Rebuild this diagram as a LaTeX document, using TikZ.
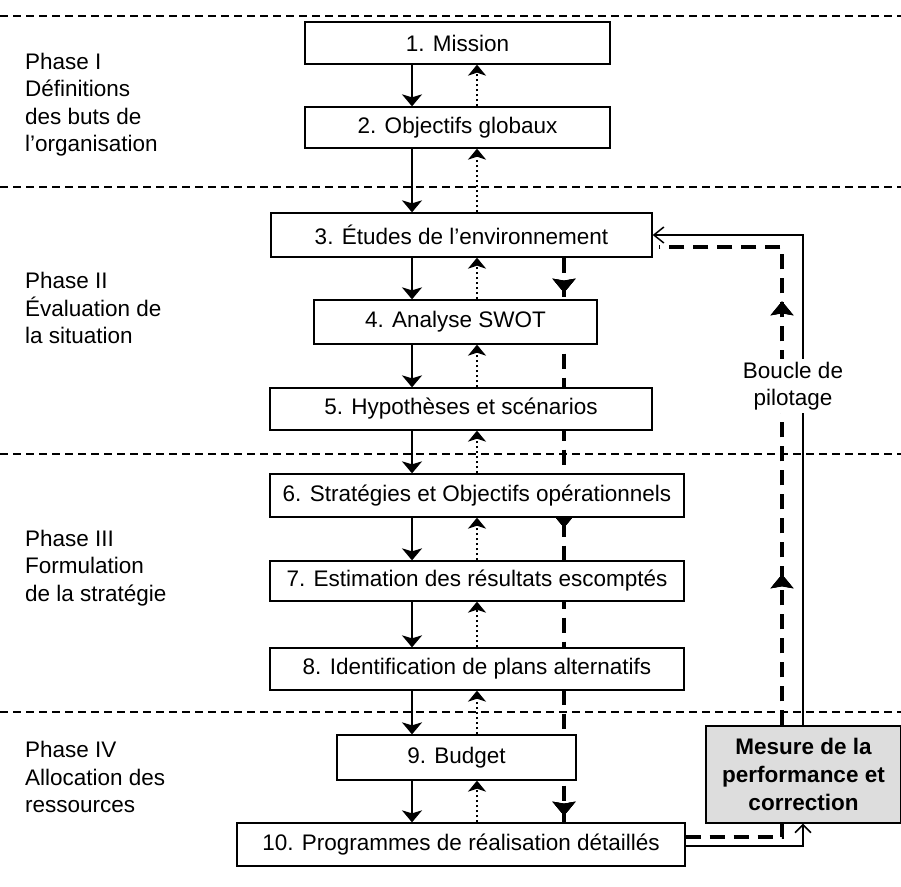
\documentclass[tikz,border=0pt]{standalone}
\usepackage{fontspec}
\setmainfont{Liberation Sans}
\usetikzlibrary{arrows.meta,calc,backgrounds,decorations.markings}

\begin{document}
\begin{tikzpicture}[x=1pt,y=-1pt,
  font=\fontsize{22.5}{27.5}\selectfont,
  stepbox/.style={draw, line width=1.3pt, fill=white, inner sep=0pt},
  phaseline/.style={line width=1.3pt, dash pattern=on 8pt off 5pt},
  phaselabel/.style={anchor=west, align=left, inner sep=0pt},
  flow/.style={line width=2pt, -{Stealth[width=20pt,length=12pt,inset=3pt]}},
  feedback/.style={line width=2pt, dash pattern=on 2pt off 3pt, -{Stealth[width=18pt,length=11pt,inset=3pt]}},
  loopdash/.style={line width=4pt, dash pattern=on 15pt off 9pt},
  loopline/.style={line width=1.5pt},
  tip/.style={decoration={markings, mark=at position #1 with {\arrow[solid,line width=1pt]{Stealth[width=23pt,length=14pt,inset=2pt]}}}, postaction={decorate}}
]
\useasboundingbox (0,0) rectangle (901,886);

% phase separators
\draw[phaseline] (0,16) -- (901,16);
\draw[phaseline] (0,187) -- (901,187);
\draw[phaseline] (0,454) -- (901,454);
\draw[phaseline] (0,712) -- (901,712);

% phase labels
\node[phaselabel] (p1) at (25,104.5) {Phase I\\Définitions\\des buts de\\l’organisation};
\node[phaselabel] (p2) at (25,308) {Phase II\\Évaluation de\\la situation};
\node[phaselabel] (p3) at (25,568) {Phase III\\Formulation\\de la stratégie};
\node[phaselabel] (p4) at (25,777) {Phase IV\\Allocation des\\ressources};

% process steps
\node[stepbox, minimum width=305pt, minimum height=42pt] (b1) at (457.5,43) {1. Mission};
\node[stepbox, minimum width=305pt, minimum height=41pt] (b2) at (457.5,127.5) {2. Objectifs globaux};
\node[stepbox, minimum width=381pt, minimum height=44pt] (b3) at (461.5,235) {3. Études de l’environnement};
\node[stepbox, minimum width=283pt, minimum height=44pt] (b4) at (455.5,322) {4. Analyse SWOT};
\node[stepbox, minimum width=382pt, minimum height=42pt] (b5) at (461,409) {5. Hypothèses et scénarios};
\node[stepbox, minimum width=414pt, minimum height=43pt] (b6) at (477,495.5) {6. Stratégies et Objectifs opérationnels};
\node[stepbox, minimum width=414pt, minimum height=40pt] (b7) at (477,581) {7. Estimation des résultats escomptés};
\node[stepbox, minimum width=414pt, minimum height=42pt] (b8) at (477,669) {8. Identification de plans alternatifs};
\node[stepbox, minimum width=239pt, minimum height=45pt] (b9) at (456.5,757.5) {9. Budget};
\node[stepbox, minimum width=448pt, minimum height=43pt] (b10) at (461,844.5) {10. Programmes de réalisation détaillés};

% control box
\node[stepbox, fill={rgb,255:red,221;green,221;blue,221}, minimum width=195pt, minimum height=97pt,
      font=\fontsize{22.5}{28}\selectfont\bfseries, align=center] (ctl) at (803.5,774.5) {Mesure de la\\performance et\\correction};

\node[fill=white, align=center, inner sep=3pt] (loop) at (793,386) {Boucle de\\pilotage};

% connector columns
\coordinate (down) at (412,0);
\coordinate (up) at (477,0);
\coordinate (mid) at (564,0);
\coordinate (rd) at (782,0);
\coordinate (rs) at (803,0);

\begin{scope}[on background layer]
  % top-down sequence and dotted feedback
  \foreach \a/\b in {b1/b2,b2/b3,b3/b4,b4/b5,b5/b6,b6/b7,b7/b8,b8/b9,b9/b10}{
    \draw[flow] (\a.south -| down) -- (\b.north -| down);
    \draw[feedback] (\b.north -| up) -- (\a.south -| up);
  }
  % dashed cascade from step 3 down to step 10
  \draw[loopdash, tip=35pt, tip=270pt, tip=558pt] (b3.south -| mid) -- (b10.north -| mid);

  % steering loop, dashed branch
  \coordinate (d10) at ($(b10.east)+(0,-8)$);
  \draw[loopdash] (d10) -| (ctl.south -| rd);
  \coordinate (d3) at ($(b3.east)+(6,12)$);
  \draw[loopdash, tip=151pt, tip=424pt] (ctl.north -| rd) |- (d3);

  % steering loop, solid branch
  \coordinate (s10) at ($(b10.east)+(0,1.5)$);
  \draw[loopline, -{Straight Barb[width=16pt,length=8pt]}] (s10) -| (ctl.south -| rs);
  \coordinate (s3) at (803,235);
  \draw[loopline, -{Straight Barb[width=16pt,length=10pt]}] (ctl.north -| rs) -- (s3) -- (b3.east);
\end{scope}
\end{tikzpicture}
\end{document}
